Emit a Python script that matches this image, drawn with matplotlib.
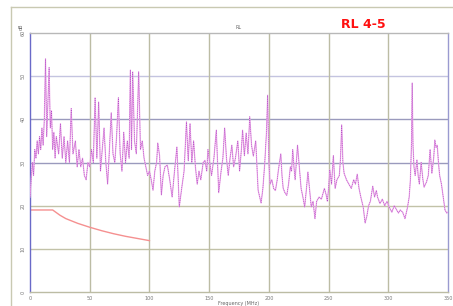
import matplotlib
matplotlib.use("Agg")
import matplotlib.pyplot as plt
from matplotlib.lines import Line2D

freq = [0, 1, 2, 3, 4, 5, 6, 7, 8, 9, 10, 11, 12, 13, 14, 15, 16, 17, 18, 19, 20, 21, 22, 24,
        25.5, 27, 28.5, 30, 31.5, 33, 34.5, 36, 38, 39.5, 41, 42.5, 44, 45.5, 47, 48.5, 50,
        51.5, 53, 54.5, 56, 57.5, 59, 60.5, 62, 63.5, 65, 66.5, 68, 69.5, 71, 72.5, 74, 75.5,
        77, 78.5, 80, 81.5, 83, 84, 85, 86, 87.5, 89, 91, 92.5, 94, 95.5, 97, 98.5, 100,
        101.5, 103, 104.5, 106, 107, 108.5, 110, 111.5, 113, 115, 117, 119, 121, 123, 125,
        127, 129, 131, 132.5, 134, 135.5, 137, 138.5, 140, 141.5, 143, 145, 146.5, 148, 149,
        150.5, 152, 154, 156, 158, 160, 161.5, 163, 164.5, 166, 167.5, 169, 170.5, 172, 174,
        175.5, 177, 178, 179.5, 181, 182.5, 184, 185.5, 187, 189, 191, 193.5, 195, 196.5, 198,
        199, 200, 201, 202.5, 204, 205.5, 207, 208, 210, 211, 212, 213.5, 215, 216.5, 218,
        219, 220, 221, 222, 223, 224, 225.5, 227, 228.5, 230, 231.5, 232.7, 234, 235.5, 237,
        238.6, 240, 242, 244, 245.5, 246.5, 248, 249, 250, 251, 252.5, 254, 255.5, 257, 259,
        260, 261, 262, 263, 265, 267, 269, 271, 272.5, 274, 275.5, 277, 279, 280.6, 282,
        283.5, 285, 287, 288.5, 290, 291, 293, 295, 297, 299, 301, 303, 305, 307, 308.5, 310,
        312, 314, 316, 317.5, 318.5, 319.5, 320, 320.7, 321.5, 322.5, 324, 325, 326, 327.5,
        329, 330, 332, 333.5, 335, 336.5, 338, 339, 340, 341, 342, 343, 344.5, 346, 347.5,
        349, 350]
level_db = [22, 26, 30, 27, 33, 31, 35, 32, 36, 33, 38, 34, 40, 54, 36, 44, 52, 38, 42, 33, 37,
            31, 36, 32, 39, 31, 36, 30, 35, 30, 42.5, 32, 35, 29, 33, 29, 31, 27, 26, 30, 29,
            33, 30, 45, 31, 44, 28, 33, 38, 30, 25, 33, 41.5, 32, 30, 36, 45, 32, 28, 37, 30,
            35, 31, 51.4, 33, 51, 35, 32, 51, 33, 35, 31, 29, 27, 28, 26, 23.6, 28, 30, 34.5,
            31.6, 22.5, 27, 29, 29.4, 26, 22, 28, 33.6, 19.7, 24, 28, 39.4, 30.4, 39, 30, 35,
            29, 25, 28, 26, 30, 30.5, 28, 33, 30, 27, 31, 37.5, 23, 28, 31, 38, 31, 27, 31, 34,
            29, 31, 35, 28, 33, 37.5, 31.6, 36.8, 32, 40.6, 34, 31.5, 35, 23.6, 20.6, 24, 29.6,
            37, 45.6, 30, 25, 26, 24, 23.5, 26, 28.3, 32, 27, 24, 23, 22.4, 25, 29, 28, 33, 29,
            26, 30, 34, 29, 24, 22, 19.7, 24, 27.8, 24, 19.7, 21, 17, 21, 22, 21.5, 23, 24,
            22.5, 21, 24, 28.3, 25, 31.6, 24, 26, 27, 31, 38.7, 30, 27.5, 26, 25, 24, 26, 25,
            27.3, 24, 22, 19.7, 16, 17.5, 20, 21, 24.5, 22, 23.5, 22, 20.5, 21.5, 20, 21, 19.5,
            18.5, 20, 19, 18.3, 19, 18.5, 17, 19.5, 22, 26, 35, 48.4, 34, 29, 27, 30.6, 27, 25,
            30, 26, 24.3, 25.5, 27, 33, 27.5, 31, 35.2, 33.5, 34, 30, 27, 25, 22, 19, 18.3,
            18.5]

limit_freq = [0, 19, 25, 30, 40, 50, 60, 70, 80, 90, 100]
limit_db = [19, 19, 17.8, 17, 15.9, 15, 14.2, 13.5, 12.9, 12.4, 11.9]

x_ticks = [0, 50, 100, 150, 200, 250, 300, 350]
y_ticks = [0, 10, 20, 30, 40, 50, 60]

W, H = 453, 306
fig = plt.figure(figsize=(W / 100, H / 100), dpi=100)
fig.patch.set_facecolor("white")
ax = fig.add_axes([30 / W, 1 - 292 / H, (448 - 30) / W, (292 - 33) / H])

# outer frame
fig.add_artist(Line2D([11 / W, 11 / W], [0, 1 - 7 / H], color="#c9c9b2", lw=1))
fig.add_artist(Line2D([11 / W, 1], [1 - 7 / H, 1 - 7 / H], color="#c9c9b2", lw=1))

ax.set_xlim(0, 350)
ax.set_ylim(0, 60)

for yv in y_ticks[1:-1]:
    c = "#9a9abd" if yv in (30, 40) else ("#c4c4e0" if yv == 50 else "#c2c2a8")
    ax.axhline(yv, color=c, lw=1.0, zorder=1)
for xv in x_ticks[1:-1]:
    ax.axvline(xv, color="#bcbca4", lw=1.0, zorder=1)

ax.plot(limit_freq, limit_db, color="#f59090", lw=1.0, zorder=2)
ax.plot(freq, level_db, color="#eeb0ea", lw=0.9, zorder=3)
ax.plot(freq, level_db, color="#b048c4", lw=0.45, ls=(0, (1.5, 1.5)), zorder=4)

ax.set_xticks(x_ticks)
ax.set_yticks(y_ticks)
ax.set_xticklabels([str(v) for v in x_ticks], fontsize=3.5, color="#777777")
ax.set_yticklabels([str(v) for v in y_ticks], fontsize=3.5, color="#777777", rotation=90, va="center")
ax.tick_params(length=0, pad=3)

ax.spines["left"].set_color("#6a6ac8")
ax.spines["right"].set_color("#9a9ad0")
ax.spines["top"].set_color("#b8b8b8")
ax.spines["bottom"].set_color("#bcbca4")
for s in ax.spines.values():
    s.set_linewidth(1.0)

ax.set_title("RL", fontsize=3.5, color="#666666", pad=3)
ax.text(-0.022, 1.01, "dB", transform=ax.transAxes, fontsize=3.5, color="#666666",
        rotation=90, ha="center", va="bottom")
ax.set_xlabel("Frequency (MHz)", fontsize=3.5, color="#666666", labelpad=0)
fig.text(363 / W, 1 - 24 / H, "RL 4-5", color="#ff1010", fontsize=9, fontweight="bold",
         ha="center", va="center")

fig.savefig("out.png", dpi=100)
